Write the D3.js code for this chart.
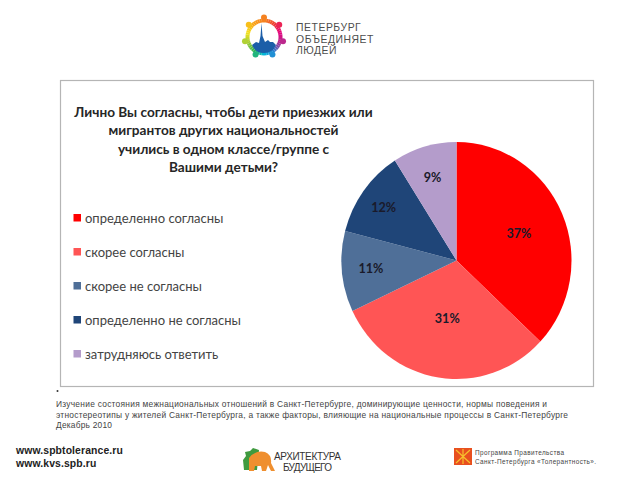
<!DOCTYPE html>
<html>
<head>
<meta charset="utf-8">
<script src="https://cdn.jsdelivr.net/npm/d3@7"></script>
<style>
  html, body { margin: 0; padding: 0; background: #fff; }
  svg { display: block; }
  text { font-family: Lato, "Open Sans", sans-serif; }
  .note text, .prog text, .urls text, .logo text { font-family: "Liberation Sans", sans-serif; }
  .arch text { font-family: "Liberation Sans Narrow", "Liberation Sans", sans-serif; }
</style>
</head>
<body>
<svg id="chart" width="640" height="480"></svg>
<script>
const categories = ["определенно согласны", "скорее согласны", "скорее не согласны", "определенно не согласны", "затрудняюсь ответить"];
const values = [37, 31, 11, 12, 9];
const colors = ["#ff0000", "#ff5555", "#4f6f98", "#1f4578", "#b49ccb"];
const titleLines = ["Лично Вы согласны, чтобы дети приезжих или", "мигрантов других национальностей", "учились в одном классе/группе с", "Вашими детьми?"];
const noteLines = [
  "Изучение состояния межнациональных отношений в Санкт-Петербурге, доминирующие ценности, нормы поведения и",
  "этностереотипы у жителей Санкт-Петербурга, а также факторы, влияющие на национальные процессы в Санкт-Петербурге",
  "Декабрь 2010"
];
const urls = ["www.spbtolerance.ru", "www.kvs.spb.ru"];
const logoLines = ["ПЕТЕРБУРГ", "ОБЪЕДИНЯЕТ", "ЛЮДЕЙ"];
const archLines = ["АРХИТЕКТУРА", "БУДУЩЕГО"];
const progLines = ["Программа Правительства", "Санкт-Петербурга «Толерантность»."];
const logoColors = ["#f58220", "#ef3e36", "#e6007e", "#b52d8f", "#2e7fd0", "#00b9e0", "#2fb457", "#a6ce39", "#f6e11c", "#f9a51a", "#f58220"];

const svg = d3.select("#chart");

// chart frame
svg.append("rect")
  .attr("x", 60.5).attr("y", 80.5)
  .attr("width", 533).attr("height", 306)
  .attr("fill", "#fff").attr("stroke", "#b5b5b5").attr("stroke-width", 1.2);

// title
svg.append("g").selectAll("text").data(titleLines).join("text")
  .attr("x", 223.5).attr("y", (d, i) => 117 + i * 18.3)
  .attr("text-anchor", "middle")
  .attr("font-size", 13.6).attr("font-weight", 700).attr("fill", "#262626")
  .text(d => d);

// pie, the reference is slightly stretched vertically
const arcs = d3.pie().sort(null)(values);
const arc = d3.arc().innerRadius(0).outerRadius(115);
const cx = 456.5, cy = 260.5;
svg.append("g").attr("transform", `translate(${cx},${cy}) scale(1,1.03)`)
  .selectAll("path").data(arcs).join("path")
  .attr("d", arc)
  .attr("fill", (d, i) => colors[i]);

// the labels sit at a different distance in every slice
const labelRadius = [68, 59, 86, 90, 86];
svg.append("g").attr("transform", `translate(${cx},${cy})`)
  .selectAll("text").data(arcs).join("text")
  .attr("transform", (d, i) => {
    const a = (d.startAngle + d.endAngle) / 2;
    return `translate(${Math.sin(a) * labelRadius[i]},${-Math.cos(a) * labelRadius[i]})`;
  })
  .attr("text-anchor", "middle").attr("dy", "0.35em")
  .attr("font-size", 12.6).attr("font-weight", 700).attr("fill", "#1a1a2a")
  .text(d => d.value + "%");

// legend
const legendY = d3.scalePoint().domain(categories).range([218, 354]);
const legend = svg.append("g").selectAll("g").data(categories).join("g")
  .attr("transform", d => `translate(73.5,${legendY(d)})`);
legend.append("rect")
  .attr("x", 0).attr("y", -4).attr("width", 7.5).attr("height", 7.5)
  .attr("fill", (d, i) => colors[i]);
legend.append("text")
  .attr("x", 11.5).attr("dy", "0.35em")
  .attr("font-size", 13).attr("fill", "#444")
  .text(d => d);

// note under the chart
svg.append("circle").attr("cx", 57.5).attr("cy", 391).attr("r", 1).attr("fill", "#333");
svg.append("g").attr("class", "note").selectAll("text").data(noteLines).join("text")
  .attr("x", 56).attr("y", (d, i) => 407 + i * 10.7)
  .attr("font-size", 8.4).attr("fill", "#444")
  .attr("textLength", (d, i) => [491, 512, 56][i])
  .text(d => d);

// urls
svg.append("g").attr("class", "urls").selectAll("text").data(urls).join("text")
  .attr("x", 16).attr("y", (d, i) => 453.5 + i * 13.5)
  .attr("font-size", 10.4).attr("font-weight", 700).attr("fill", "#222")
  .attr("letter-spacing", 0.12)
  .text(d => d);

// top logo
const logo = svg.append("g").attr("class", "logo");
const ringColor = d3.scaleLinear()
  .domain(d3.range(logoColors.length).map(i => i / (logoColors.length - 1)))
  .range(logoColors);
const ringParts = d3.range(48);
const ring = d3.pie().value(1).sort(null)(ringParts);
const people = d3.range(7);
const mark = logo.append("g").attr("transform", "translate(264,37)");
mark.selectAll("path.ring").data(ring).join("path")
  .attr("class", "ring")
  .attr("d", d3.arc().innerRadius(14.5).outerRadius(18.5))
  .attr("fill", (d, i) => ringColor(i / 47));
mark.selectAll("circle.head").data(people).join("circle")
  .attr("class", "head")
  .attr("cx", d => Math.sin(d * 2 * Math.PI / 7) * 19.5)
  .attr("cy", d => -Math.cos(d * 2 * Math.PI / 7) * 19.5)
  .attr("r", 3)
  .attr("fill", d => ringColor(d / 7));
mark.append("path")
  .attr("d", "M-12,8 L-8,5 L-5,6 L-3.5,-1 L-2.5,-14 L-1.5,-1 L1,5 L4,3 L6,5 L9,5 L12,8 A13,13 0 0 1 -12,8 Z")
  .attr("fill", "#1c5ea8");
logo.selectAll("text").data(logoLines).join("text")
  .attr("x", 296).attr("y", (d, i) => 31 + i * 11.6)
  .attr("font-size", 10.4).attr("fill", "#4d4d4d").attr("letter-spacing", 0.55)
  .text(d => d);

// bottom logo
const mammoth = svg.append("g").attr("transform", "translate(243,448)");
mammoth.append("path")
  .attr("d", "M1,22 L0,12 L3,8 L2,4 L7,3 L10,0 L16,2 L14,22 Z")
  .attr("fill", "#3f9a3f");
mammoth.append("path")
  .attr("d", "M6,23 L6,10 Q12,2 22,4 Q29,7 28,15 L32,23 L28,23 L25,17 L23,23 L19,23 L18,18 L12,18 L11,23 Z")
  .attr("fill", "#ef8f2f");
svg.append("g").attr("class", "arch").selectAll("text").data(archLines).join("text")
  .attr("x", 307.5).attr("y", (d, i) => 460 + i * 10.6)
  .attr("text-anchor", "middle")
  .attr("font-size", 10).attr("fill", "#333")
  .attr("textLength", (d, i) => [67, 49][i])
  .text(d => d);

// programme block
svg.append("rect").attr("x", 454).attr("y", 448).attr("width", 18).attr("height", 17).attr("fill", "#e8501f");
svg.append("path").attr("d", "M456,450 L470,463 M470,450 L456,463 M463,449 L463,464")
  .attr("stroke", "#f6c02c").attr("stroke-width", 1.2);
svg.append("g").attr("class", "prog").selectAll("text").data(progLines).join("text")
  .attr("x", 475).attr("y", (d, i) => 454.5 + i * 9.5)
  .attr("font-size", 6.4).attr("fill", "#444")
  .attr("textLength", (d, i) => [89, 121][i])
  .text(d => d);
</script>
</body>
</html>
